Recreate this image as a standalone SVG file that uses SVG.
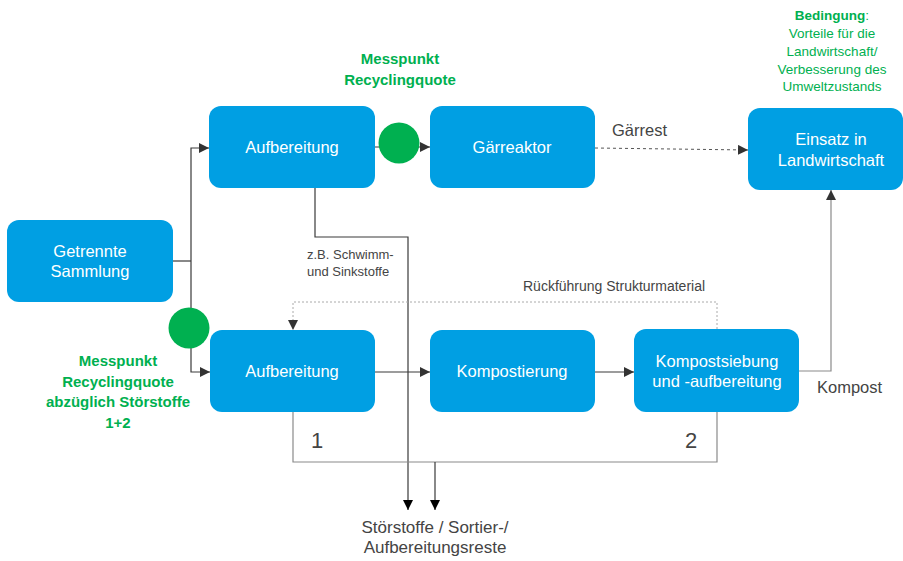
<svg xmlns="http://www.w3.org/2000/svg" width="903" height="561" viewBox="0 0 903 561">
<style>
.box{fill:#009FE3;}
.bt{fill:#fff;font-family:"Liberation Sans",Arial,sans-serif;font-size:16.5px;text-anchor:middle;}
.g{fill:#00B050;font-family:"Liberation Sans",Arial,sans-serif;text-anchor:middle;}
.gb{font-weight:bold;font-size:15px;}
.gs{font-size:13.5px;}
.lbl{fill:#444;font-family:"Liberation Sans",Arial,sans-serif;}
.ln{fill:none;stroke:#3a3a3a;stroke-width:1.2;}
.lg{fill:none;stroke:#8a8a8a;stroke-width:1.2;}
.ld{fill:none;stroke:#555;stroke-width:1;stroke-dasharray:3 3;}
.lo{fill:none;stroke:#aaa;stroke-width:1;stroke-dasharray:2 2;}
.dot{fill:#00B050;}
</style>
<defs>
<marker id="ah" viewBox="0 0 10 10" refX="10" refY="5" markerWidth="10" markerHeight="10" markerUnits="userSpaceOnUse" orient="auto"><path d="M0,0 L10,5 L0,10 Z" fill="#333"/></marker>
<marker id="ahk" viewBox="0 0 10 10" refX="10" refY="5" markerWidth="10" markerHeight="10" markerUnits="userSpaceOnUse" orient="auto"><path d="M0,0 L10,5 L0,10 Z" fill="#000"/></marker>
</defs>
<g id="connectors">
<path class="ln" d="M173,261 H191"/>
<path class="ln" d="M191,261 V148 H209" marker-end="url(#ah)"/>
<path class="ln" d="M191,261 V372 H210" marker-end="url(#ah)"/>
<path class="ln" d="M375,147 H430" marker-end="url(#ah)"/>
<path class="ld" d="M595,148 L748,150" marker-end="url(#ah)"/>
<path class="ln" d="M315,188 V237 H408 V510" marker-end="url(#ahk)"/>
<path class="lg" d="M293,412 V462 H717 V412"/>
<path class="ln" d="M435,462 V510" marker-end="url(#ahk)"/>
<path class="lo" d="M717,329 V302 H293 V330" marker-end="url(#ah)"/>
<path class="ln" d="M375,372 H430" marker-end="url(#ah)"/>
<path class="ln" d="M595,372 H634" marker-end="url(#ah)"/>
<path class="lg" d="M799,371 H831 V190" marker-end="url(#ah)"/>
</g>
<g id="n-sammlung"><rect class="box" x="7" y="220" width="166" height="82" rx="12"/><text class="bt" x="90" y="257">Getrennte</text><text class="bt" x="90" y="277">Sammlung</text></g>
<g id="n-aufb1"><rect class="box" x="209" y="106" width="166" height="82" rx="12"/><text class="bt" x="292" y="153">Aufbereitung</text></g>
<g id="n-gaer"><rect class="box" x="430" y="106" width="165" height="82" rx="12"/><text class="bt" x="512" y="153">Gärreaktor</text></g>
<g id="n-einsatz"><rect class="box" x="748" y="108" width="155" height="82" rx="12"/><text class="bt" x="831" y="145">Einsatz in</text><text class="bt" x="831" y="166">Landwirtschaft</text></g>
<g id="n-aufb2"><rect class="box" x="210" y="330" width="165" height="82" rx="12"/><text class="bt" x="292" y="377">Aufbereitung</text></g>
<g id="n-kompost"><rect class="box" x="430" y="330" width="165" height="82" rx="12"/><text class="bt" x="512" y="377">Kompostierung</text></g>
<g id="n-sieb"><rect class="box" x="634" y="329" width="165" height="83" rx="12"/><text class="bt" x="717" y="367">Kompostsiebung</text><text class="bt" x="717" y="387">und -aufbereitung</text></g>
<g id="m-top"><circle class="dot" cx="399" cy="143" r="20.5"/><text class="g gb" x="400" y="64">Messpunkt</text><text class="g gb" x="400" y="85">Recyclingquote</text></g>
<g id="m-bottom"><circle class="dot" cx="189" cy="328" r="20.5"/><text class="g gb" x="118" y="366">Messpunkt</text><text class="g gb" x="118" y="387">Recyclingquote</text><text class="g gb" x="118" y="407">abzüglich Störstoffe</text><text class="g gb" x="118" y="428">1+2</text></g>
<g id="bedingung"><text class="g gs" x="832" y="20"><tspan font-weight="bold">Bedingung</tspan>:</text><text class="g gs" x="832" y="38">Vorteile für die</text><text class="g gs" x="832" y="56">Landwirtschaft/</text><text class="g gs" x="832" y="74">Verbesserung des</text><text class="g gs" x="832" y="91">Umweltzustands</text></g>
<g id="labels">
<text class="lbl" x="612" y="136" font-size="16.5">Gärrest</text>
<text class="lbl" x="817" y="393" font-size="16.5">Kompost</text>
<text class="lbl" x="523" y="291" font-size="14">Rückführung Strukturmaterial</text>
<text class="lbl" x="307" y="259" font-size="13">z.B. Schwimm-</text>
<text class="lbl" x="307" y="276" font-size="13">und Sinkstoffe</text>
<text class="lbl" x="311" y="448" font-size="22">1</text>
<text class="lbl" x="685" y="448" font-size="22">2</text>
<text class="lbl" x="435" y="533" font-size="17" text-anchor="middle">Störstoffe / Sortier-/</text>
<text class="lbl" x="435" y="553" font-size="17" text-anchor="middle">Aufbereitungsreste</text>
</g>
</svg>
